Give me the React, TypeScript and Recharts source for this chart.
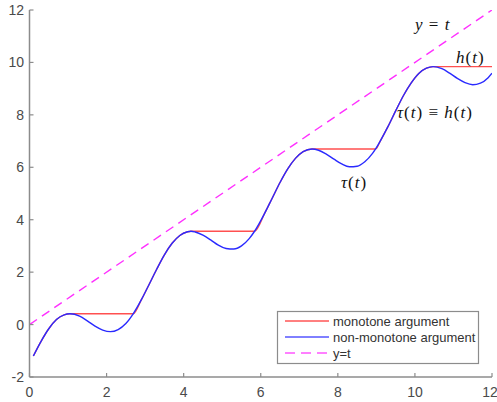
import React from "react";
import { LineChart, Line, XAxis, YAxis } from "recharts";

// time grid (t), non-monotone argument tau(t), monotone argument h(t)
const tValues = [
  0.1, 0.3, 0.5, 0.7, 0.9, 1.05, 1.3, 1.5, 1.7, 1.9, 2.1, 2.3, 2.5, 2.69, 2.9,
  3.1, 3.3, 3.5, 3.7, 3.9, 4.1, 4.19, 4.3, 4.5, 4.7, 4.9, 5.1, 5.3, 5.5, 5.7,
  5.84, 6.1, 6.3, 6.5, 6.7, 6.9, 7.1, 7.33, 7.5, 7.7, 7.9, 8.1, 8.3, 8.5, 8.7,
  8.9, 8.98, 9.1, 9.3, 9.5, 9.7, 9.9, 10.1, 10.3, 10.47, 10.7, 10.9, 11.1,
  11.3, 11.5, 11.7, 11.9, 12.0,
];
const tauValues = [
  -1.2, -0.64, -0.16, 0.19, 0.37, 0.41, 0.32, 0.14, -0.06, -0.21, -0.27, -0.19,
  0.04, 0.41, 0.94, 1.52, 2.11, 2.66, 3.1, 3.4, 3.54, 3.56, 3.53, 3.41, 3.23,
  3.03, 2.9, 2.88, 3.0, 3.28, 3.56, 4.24, 4.83, 5.42, 5.94, 6.34, 6.6, 6.7,
  6.65, 6.5, 6.31, 6.13, 6.02, 6.04, 6.21, 6.53, 6.7, 7.0, 7.55, 8.15, 8.73,
  9.21, 9.58, 9.78, 9.84, 9.76, 9.59, 9.39, 9.23, 9.15, 9.21, 9.42, 9.59,
];
const hValues = [
  -1.2, -0.64, -0.16, 0.19, 0.37, 0.41, 0.41, 0.41, 0.41, 0.41, 0.41, 0.41,
  0.41, 0.41, 0.94, 1.52, 2.11, 2.66, 3.1, 3.4, 3.54, 3.56, 3.56, 3.56, 3.56,
  3.56, 3.56, 3.56, 3.56, 3.56, 3.56, 4.24, 4.83, 5.42, 5.94, 6.34, 6.6, 6.7,
  6.7, 6.7, 6.7, 6.7, 6.7, 6.7, 6.7, 6.7, 6.7, 7.0, 7.55, 8.15, 8.73, 9.21,
  9.58, 9.78, 9.84, 9.84, 9.84, 9.84, 9.84, 9.84, 9.84, 9.84, 9.84,
];
const diagT = [0, 12];
const xTicks = [0, 2, 4, 6, 8, 10, 12];
const yTicks = [-2, 0, 2, 4, 6, 8, 10, 12];

const data = tValues.map((t, i) => ({ t, tau: tauValues[i], h: hValues[i] }));
const diagData = diagT.map((t) => ({ t, y: t }));

const axisColor = "#8c8c8c";
const tickStyle = { fill: "#4a4a4a", fontSize: 14, fontFamily: "'Liberation Sans', Arial, sans-serif" };
const serif = "'Liberation Serif', 'Times New Roman', serif";
const sans = "'Liberation Sans', Arial, sans-serif";

export default function App() {
  return (
    <div style={{ position: "absolute", left: 0, top: 0, width: 497, height: 402, background: "#fff" }}>
      <LineChart width={497} height={402} data={data} margin={{ top: 10, right: 5, bottom: 0, left: 0 }}>
        <XAxis
          dataKey="t"
          type="number"
          domain={[0, 12]}
          ticks={xTicks}
          height={25}
          tickSize={-4}
          tickMargin={14}
          tick={tickStyle}
          axisLine={{ stroke: axisColor, strokeWidth: 1.5 }}
          tickLine={{ stroke: axisColor, strokeWidth: 1.2 }}
          allowDataOverflow
        />
        <YAxis
          type="number"
          domain={[-2, 12]}
          ticks={yTicks}
          width={29.5}
          tickSize={-4}
          tickMargin={9.5}
          tick={tickStyle}
          axisLine={{ stroke: axisColor, strokeWidth: 1.5 }}
          tickLine={{ stroke: axisColor, strokeWidth: 1.2 }}
          allowDataOverflow
        />
        <Line dataKey="h" type="monotone" stroke="#ff5050" strokeWidth={1.4} dot={false} isAnimationActive={false} />
        <Line dataKey="tau" type="monotone" stroke="#2a2aff" strokeWidth={1.4} dot={false} isAnimationActive={false} />
        <Line
          data={diagData}
          dataKey="y"
          type="linear"
          stroke="#ff30ff"
          strokeWidth={1.4}
          strokeDasharray="9 6"
          dot={false}
          isAnimationActive={false}
        />
      </LineChart>
      <svg width={497} height={402} style={{ position: "absolute", left: 0, top: 0, pointerEvents: "none" }}>
        <g fontFamily={serif} fontSize={17} fill="#111" letterSpacing={1}>
          <text x={415} y={30}>
            <tspan fontStyle="italic">y</tspan> = <tspan fontStyle="italic">t</tspan>
          </text>
          <text x={456} y={63}>
            <tspan fontStyle="italic">h</tspan>(<tspan fontStyle="italic">t</tspan>)
          </text>
          <text x={397} y={118}>
            <tspan fontStyle="italic">τ</tspan>(<tspan fontStyle="italic">t</tspan>) ≡ <tspan fontStyle="italic">h</tspan>(<tspan fontStyle="italic">t</tspan>)
          </text>
          <text x={341} y={188}>
            <tspan fontStyle="italic">τ</tspan>(<tspan fontStyle="italic">t</tspan>)
          </text>
        </g>
        <rect x={277.5} y={311.5} width={201} height={52} fill="#fff" stroke="#8c8c8c" strokeWidth={1.2} />
        <line x1={285} y1={321} x2={329} y2={321} stroke="#ff0000" strokeWidth={1} />
        <line x1={285} y1={337} x2={329} y2={337} stroke="#0000ff" strokeWidth={1} />
        <line x1={285} y1={353} x2={329} y2={353} stroke="#ff00ff" strokeWidth={1} strokeDasharray="10 6" />
        <g fontFamily={sans} fontSize={13} fill="#333">
          <text x={333} y={325.5}>monotone argument</text>
          <text x={333} y={341.5}>non-monotone argument</text>
          <text x={333} y={357.5}>y=t</text>
        </g>
      </svg>
    </div>
  );
}
